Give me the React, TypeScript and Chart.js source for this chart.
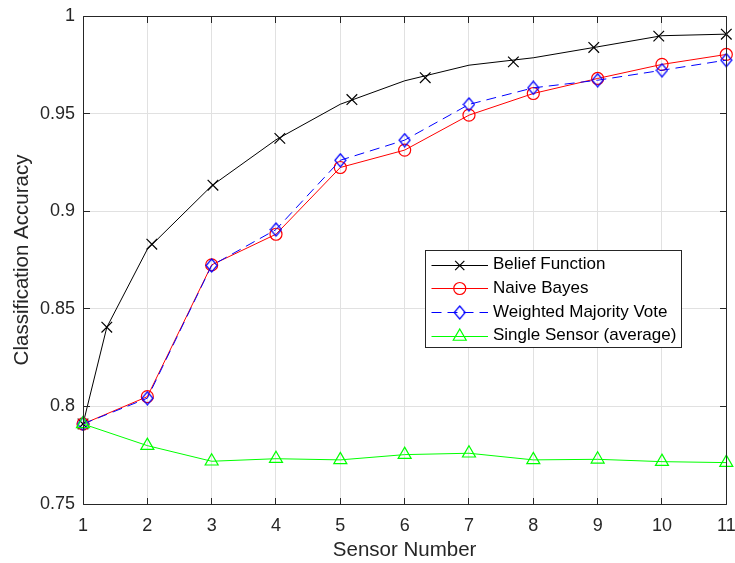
import React, { useEffect, useRef } from 'react';
import { Chart, registerables } from 'chart.js';

Chart.register(...registerables);

// ---------------- data ----------------
const sensorNumbers = [1, 2, 3, 4, 5, 6, 7, 8, 9, 10, 11];
const yTickValues = [0.75, 0.8, 0.85, 0.9, 0.95, 1];

// Belief Function: line vertices and (separately placed) marker positions
const beliefLineX = [1, 1.37, 2, 3, 4, 5, 6, 7, 8, 9, 10, 11];
const beliefLineY = [0.791, 0.8405, 0.8805, 0.913, 0.9366, 0.9548, 0.9668, 0.9748, 0.9786, 0.9842, 0.9899, 0.9907];
const beliefMarkerX = [1, 1.37, 2.07, 3.02, 4.06, 5.18, 6.32, 7.69, 8.94, 9.95, 11];
const beliefMarkerY = [0.791, 0.8406, 0.8831, 0.9133, 0.9373, 0.9572, 0.9684, 0.9765, 0.9839, 0.9897, 0.9907];

const naiveBayes = [0.791, 0.805, 0.8725, 0.8882, 0.9224, 0.9313, 0.9492, 0.9603, 0.968, 0.9752, 0.9803];
const weightedMajority = [0.791, 0.8042, 0.8722, 0.8906, 0.9261, 0.9364, 0.9547, 0.9632, 0.9671, 0.9722, 0.9774];
const singleSensor = [0.791, 0.7799, 0.7719, 0.7732, 0.7726, 0.7753, 0.776, 0.7726, 0.7729, 0.7717, 0.7712];

const seriesNames = ['Belief Function', 'Naive Bayes', 'Weighted Majority Vote', 'Single Sensor (average)'];
const xTitle = 'Sensor Number';
const yTitle = 'Classification Accuracy';

// ---------------- styles ----------------
const FONT = "'Liberation Sans', Arial, Helvetica, sans-serif";
const AXIS = '#262626';
const GRID = '#e1e1e1';
const BLACK = '#000000';
const RED = '#ff0000';
const BLUE = '#0000ff';
const GREEN = '#00ff00';
const BLUE_DASH = [10, 6];

function makeDiamond(): HTMLCanvasElement {
  const c = document.createElement('canvas');
  c.width = 13;
  c.height = 15;
  const g = c.getContext('2d')!;
  g.strokeStyle = BLUE;
  g.lineWidth = 1.2;
  g.beginPath();
  g.moveTo(6.5, 1);
  g.lineTo(12, 7.5);
  g.lineTo(6.5, 14);
  g.lineTo(1, 7.5);
  g.closePath();
  g.stroke();
  return c;
}

const align = (p: number) => Math.round(p - 0.5) + 0.5;

const boxPlugin = {
  id: 'matlabBox',
  afterDatasetsDraw(chart: any) {
    const { ctx, chartArea } = chart;
    const xs = chart.scales.x;
    const ys = chart.scales.y;
    const L = align(chartArea.left);
    const R = align(chartArea.right);
    const T = align(chartArea.top);
    const B = align(chartArea.bottom);
    const tl = 6.5;
    ctx.save();
    ctx.strokeStyle = AXIS;
    ctx.lineWidth = 1;
    ctx.beginPath();
    ctx.rect(L, T, R - L, B - T);
    for (const v of sensorNumbers) {
      const px = align(xs.getPixelForValue(v));
      ctx.moveTo(px, B);
      ctx.lineTo(px, B - tl);
      ctx.moveTo(px, T);
      ctx.lineTo(px, T + tl);
    }
    for (const v of yTickValues) {
      const py = align(ys.getPixelForValue(v));
      ctx.moveTo(L, py);
      ctx.lineTo(L + tl, py);
      ctx.moveTo(R, py);
      ctx.lineTo(R - tl, py);
    }
    ctx.stroke();
    ctx.restore();
  },
};

function drawCross(ctx: CanvasRenderingContext2D, x: number, y: number, r: number) {
  const d = r * Math.SQRT1_2;
  ctx.beginPath();
  ctx.moveTo(x - d, y - d);
  ctx.lineTo(x + d, y + d);
  ctx.moveTo(x + d, y - d);
  ctx.lineTo(x - d, y + d);
  ctx.stroke();
}

function drawTriangle(ctx: CanvasRenderingContext2D, x: number, y: number, r: number) {
  const h = r * Math.sin(Math.PI / 3);
  ctx.beginPath();
  ctx.moveTo(x, y - r);
  ctx.lineTo(x + h, y + r / 2);
  ctx.lineTo(x - h, y + r / 2);
  ctx.closePath();
  ctx.stroke();
}

function makeLegendPlugin(diamond: HTMLCanvasElement) {
  return {
    id: 'matlabLegend',
    afterDraw(chart: any) {
      const { ctx, chartArea } = chart;
      const bx = align(chartArea.right - 301);
      const by = align(chartArea.top + 234);
      const bw = 256;
      const bh = 97;
      ctx.save();
      ctx.fillStyle = '#ffffff';
      ctx.fillRect(bx, by, bw, bh);
      ctx.strokeStyle = AXIS;
      ctx.lineWidth = 1;
      ctx.strokeRect(bx, by, bw, bh);

      const rowY = [14, 37.7, 61.4, 85.1].map((d) => by + d);
      const x0 = bx + 6;
      const x1 = bx + 62.5;
      const xm = (x0 + x1) / 2;
      const colors = [BLACK, RED, BLUE, GREEN];
      ctx.font = `17px ${FONT}`;
      ctx.textBaseline = 'middle';
      ctx.textAlign = 'left';
      seriesNames.forEach((name, i) => {
        const yy = Math.round(rowY[i]) + 0.5;
        ctx.strokeStyle = colors[i];
        ctx.lineWidth = 1;
        ctx.setLineDash(i === 2 ? BLUE_DASH : []);
        ctx.beginPath();
        ctx.moveTo(x0, yy);
        ctx.lineTo(x1, yy);
        ctx.stroke();
        ctx.setLineDash([]);
        ctx.lineWidth = 1.2;
        if (i === 0) drawCross(ctx, xm, yy, 6.5);
        if (i === 1) {
          ctx.beginPath();
          ctx.arc(xm, yy, 6, 0, Math.PI * 2);
          ctx.stroke();
        }
        if (i === 2) ctx.drawImage(diamond, xm - diamond.width / 2, yy - diamond.height / 2);
        if (i === 3) drawTriangle(ctx, xm, yy, 7.5);
        ctx.fillStyle = '#000000';
        ctx.fillText(name, bx + 67.5, rowY[i]);
      });
      ctx.restore();
    },
  };
}

export default function App() {
  const canvasRef = useRef<HTMLCanvasElement | null>(null);

  useEffect(() => {
    const canvas = canvasRef.current;
    if (!canvas) return;
    const diamond = makeDiamond();
    const toXY = (xs: number[], ys: number[]) => xs.map((x, i) => ({ x, y: ys[i] }));

    const chart = new Chart(canvas, {
      type: 'line',
      data: {
        datasets: [
          {
            label: seriesNames[0],
            data: toXY(beliefLineX, beliefLineY),
            borderColor: BLACK,
            borderWidth: 1,
            pointRadius: 0,
            showLine: true,
            order: 5,
            clip: false,
          },
          {
            label: seriesNames[0] + ' markers',
            data: toXY(beliefMarkerX, beliefMarkerY),
            showLine: false,
            pointStyle: 'crossRot',
            pointRadius: 7.5,
            pointBorderColor: BLACK,
            pointBorderWidth: 1.2,
            pointBackgroundColor: 'rgba(0,0,0,0)',
            order: 4,
            clip: false,
          },
          {
            label: seriesNames[1],
            data: toXY(sensorNumbers, naiveBayes),
            borderColor: RED,
            borderWidth: 1,
            pointStyle: 'circle',
            pointRadius: 6,
            pointBorderColor: RED,
            pointBorderWidth: 1.2,
            pointBackgroundColor: 'rgba(0,0,0,0)',
            order: 3,
            clip: false,
          },
          {
            label: seriesNames[2],
            data: toXY(sensorNumbers, weightedMajority),
            borderColor: BLUE,
            borderWidth: 1,
            borderDash: BLUE_DASH,
            pointStyle: diamond as any,
            pointRadius: 7,
            order: 2,
            clip: false,
          },
          {
            label: seriesNames[3],
            data: toXY(sensorNumbers, singleSensor),
            borderColor: GREEN,
            borderWidth: 1,
            pointStyle: 'triangle',
            pointRadius: 7.5,
            pointBorderColor: GREEN,
            pointBorderWidth: 1.2,
            pointBackgroundColor: 'rgba(0,0,0,0)',
            order: 1,
            clip: false,
          },
        ] as any,
      },
      options: {
        animation: false,
        responsive: false,
        devicePixelRatio: 1,
        layout: { padding: { top: 16, right: 7, left: 0, bottom: 0 } },
        plugins: {
          legend: { display: false },
          tooltip: { enabled: false },
        },
        elements: { line: { tension: 0 } },
        scales: {
          x: {
            type: 'linear',
            min: 1,
            max: 11,
            afterBuildTicks: (s: any) => {
              s.ticks = sensorNumbers.map((v) => ({ value: v }));
            },
            ticks: {
              font: { family: FONT, size: 18 },
              color: AXIS,
              padding: 11,
              maxRotation: 0,
              autoSkip: false,
              callback: (v: any) => String(v),
            },
            grid: { color: GRID, lineWidth: 1, drawTicks: false },
            border: { display: false },
            title: {
              display: true,
              text: xTitle,
              font: { family: FONT, size: 20.5 },
              color: AXIS,
              padding: { top: 0, bottom: 0 },
            },
            afterFit: (s: any) => {
              s.height = 59;
              s.paddingLeft = 0;
              s.paddingRight = 0;
            },
          },
          y: {
            type: 'linear',
            min: 0.75,
            max: 1,
            afterBuildTicks: (s: any) => {
              s.ticks = yTickValues.map((v) => ({ value: v }));
            },
            ticks: {
              font: { family: FONT, size: 18 },
              color: AXIS,
              padding: 8,
              callback: (v: any) => String(Number(Number(v).toFixed(2))),
            },
            grid: { color: GRID, lineWidth: 1, drawTicks: false },
            border: { display: false },
            title: {
              display: true,
              text: yTitle,
              font: { family: FONT, size: 20.5 },
              color: AXIS,
              padding: { top: 10, bottom: 0 },
            },
            afterFit: (s: any) => {
              s.width = 83;
              s.paddingTop = 0;
              s.paddingBottom = 0;
            },
          },
        },
      } as any,
      plugins: [boxPlugin, makeLegendPlugin(diamond)],
    });

    return () => chart.destroy();
  }, []);

  return (
    <div style={{ position: 'absolute', left: 0, top: 0, width: 735, height: 563, background: '#ffffff' }}>
      <canvas ref={canvasRef} width={735} height={563} style={{ display: 'block', width: 735, height: 563 }} />
    </div>
  );
}
